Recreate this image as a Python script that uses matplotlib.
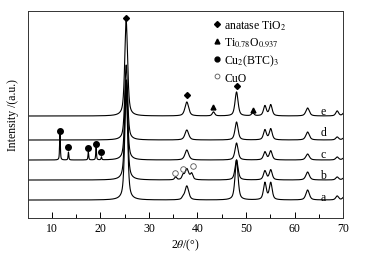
import numpy as np
import matplotlib
matplotlib.use("Agg")
import matplotlib.pyplot as plt
from matplotlib.lines import Line2D

plt.rcParams['font.family'] = ['Liberation Serif', 'DejaVu Serif']
plt.rcParams['mathtext.fontset'] = 'stix'

# ---- data (arbitrary intensity units) ----
curve_names = ['a', 'b', 'c', 'd', 'e']
baselines = [18, 38, 58, 78, 102]

peak_pos  = [11.65, 13.4, 17.5, 19.1, 20.2, 25.3, 35.5, 37.0, 37.8, 38.8, 43.3, 48.05, 51.4, 53.9, 55.1, 62.7, 68.8, 70.2]
peak_fwhm = [0.18, 0.18, 0.18, 0.18, 0.18, 0.7, 0.5, 0.5, 0.9, 0.6, 0.6, 0.75, 0.6, 0.7, 0.7, 0.85, 0.7, 0.7]
heights_a = [0, 0, 0, 0, 0, 110, 0, 2, 14, 0, 0, 40, 0, 17, 17, 10, 4, 3]
heights_b = [0, 0, 0, 0, 0, 100, 3, 4, 11, 6, 0, 20, 0, 9, 10, 8, 3, 2]
heights_c = [28, 8, 8, 13, 3, 80, 0, 0, 10, 0, 0, 17, 0, 8, 9, 6, 3, 2]
heights_d = [0, 0, 0, 0, 0, 75, 0, 0, 10, 0, 0, 18, 0, 10, 11, 8, 3, 2]
heights_e = [0, 0, 0, 0, 0, 95, 0, 0, 14, 0, 4, 24, 3, 10, 11, 8, 5, 3]
all_heights = [heights_a, heights_b, heights_c, heights_d, heights_e]

label_x = 65.9
label_y = [21, 43, 64, 86, 107]

anatase_x = [25.3, 37.8, 48.05]
anatase_y = [200, 123, 132]
tio_x = [43.3, 51.4]
tio_y = [111, 108]
cubtc_x = [11.65, 13.4, 17.5, 19.1, 20.2]
cubtc_y = [87, 71, 70, 74, 66]
cuo_x = [35.4, 37.0, 39.1]
cuo_y = [45, 49, 52]

legend_labels = ['anatase TiO$_2$', 'Ti$_{0.78}$O$_{0.937}$', 'Cu$_2$(BTC)$_3$', 'CuO']

# ---- figure ----
fig = plt.figure(figsize=(3.66, 2.55), dpi=100)
ax = fig.add_axes([0.0757, 0.141, 0.8615, 0.812])

x = np.linspace(5, 70, 3000)

def profile(heights):
    y = np.zeros_like(x)
    for p, w, h in zip(peak_pos, peak_fwhm, heights):
        if h == 0:
            continue
        hw = w / 2.0
        lor = 1.0 / (1.0 + ((x - p) / hw) ** 2)
        gau = np.exp(-np.log(2) * ((x - p) / hw) ** 2)
        y += h * (0.6 * lor + 0.4 * gau)
    return y

for name, base, hts in zip(curve_names, baselines, all_heights):
    ax.plot(x, base + profile(hts), color='black', lw=0.8)

for name, ly in zip(curve_names, label_y):
    ax.text(label_x, ly, name, fontsize=8.5, ha='center', va='center')

ax.plot(anatase_x, anatase_y, 'D', color='black', ms=3, ls='none')
ax.plot(tio_x, tio_y, '^', color='black', ms=3.5, ls='none')
ax.plot(cubtc_x, cubtc_y, 'o', color='black', ms=4, ls='none')
ax.plot(cuo_x, cuo_y, 'o', mfc='none', mec='#555555', mew=0.6, ms=4, ls='none')

handles = [
    Line2D([], [], marker='D', color='black', ms=3, ls='none'),
    Line2D([], [], marker='^', color='black', ms=3.5, ls='none'),
    Line2D([], [], marker='o', color='black', ms=3.5, ls='none'),
    Line2D([], [], marker='o', mfc='none', mec='#555555', mew=0.6, ms=3.5, ls='none'),
]
ax.legend(handles, legend_labels, loc='upper left', bbox_to_anchor=(0.59, 0.965),
          frameon=False, fontsize=8.5, handlelength=0.6, handletextpad=0.3,
          borderpad=0, labelspacing=0.33, borderaxespad=0)

ax.set_xlim(5, 70)
ax.set_ylim(0, 207)
ax.set_xticks([10, 20, 30, 40, 50, 60, 70])
ax.set_xticks([15, 25, 35, 45, 55, 65], minor=True)
ax.set_yticks([])
ax.tick_params(axis='x', which='both', direction='in', labelsize=8.5, pad=3)
ax.tick_params(axis='x', which='major', length=4, width=0.7)
ax.tick_params(axis='x', which='minor', length=3, width=0.7)
for s in ax.spines.values():
    s.set_linewidth(0.7)
    s.set_color('#333333')

ax.set_xlabel(r'2$\theta$/(°)', fontsize=8.5, labelpad=2)
ax.set_ylabel('Intensity /(a.u.)', fontsize=8.5, labelpad=6)

fig.savefig('out.png', dpi=100)
